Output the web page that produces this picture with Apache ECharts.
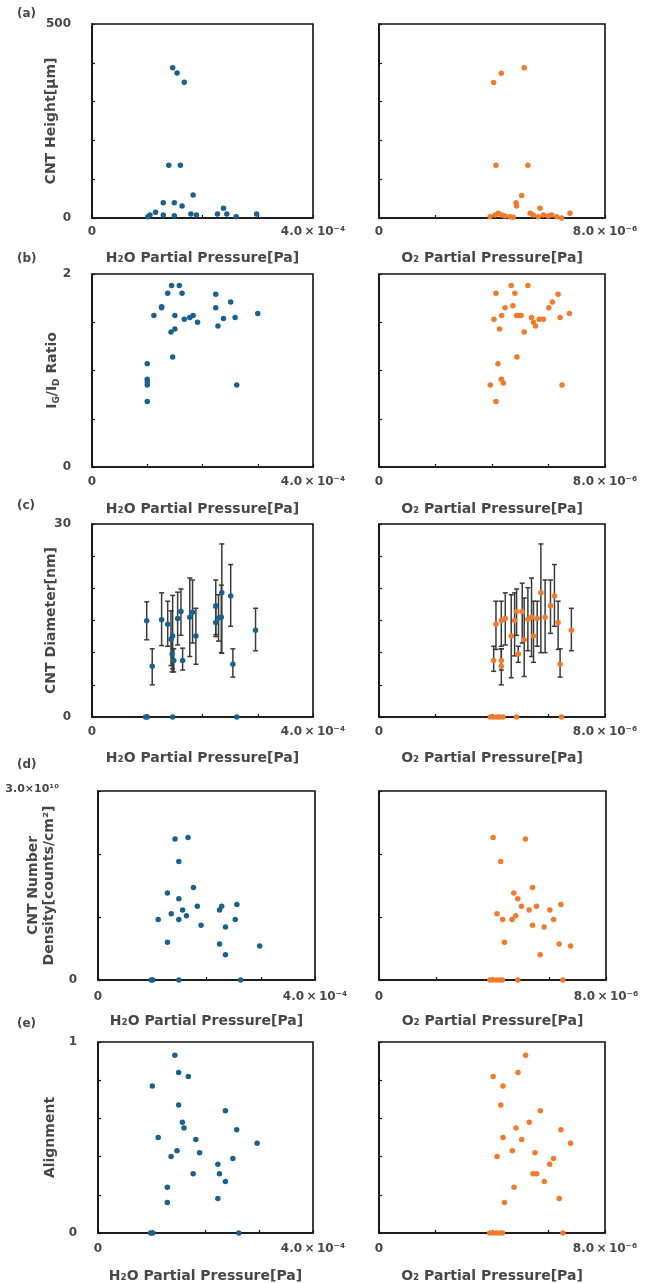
<!DOCTYPE html>
<html><head><meta charset="utf-8">
<script src="https://cdn.jsdelivr.net/npm/echarts@6/dist/echarts.min.js"></script>
<style>html,body{margin:0;padding:0;background:#fff}#c{width:656px;height:1283px}</style>
</head><body><div id="c"></div>
<script>
// ---------------- DATA ----------------
// (a) CNT height [um]
const aH2Ox = [1.46e-4,1.54e-4,1.67e-4,1.39e-4,1.60e-4,1.01e-4,1.05e-4,1.15e-4,1.29e-4,1.29e-4,1.49e-4,1.49e-4,1.63e-4,1.83e-4,1.79e-4,1.89e-4,2.27e-4,2.38e-4,2.44e-4,2.61e-4,2.98e-4];
const aH2Oy = [387,374,350,136,136,3,8,15,39,8,39,6,31,59,10,8,10,25,10,3,10];
const aO2x = [4.06e-6,4.33e-6,5.14e-6,4.14e-6,5.27e-6,5.05e-6,4.85e-6,4.87e-6,5.70e-6,6.76e-6,3.93e-6,4.11e-6,4.22e-6,4.34e-6,4.46e-6,4.64e-6,4.75e-6,5.35e-6,5.46e-6,5.64e-6,5.82e-6,5.99e-6,6.11e-6,6.29e-6,6.47e-6];
const aO2y = [349,373,387,136,136,58,39,31,25,12,3,8,12,8,5,3,2,12,8,3,8,5,8,3,0];

// (b) IG/ID ratio
const bH2Ox = [1.00e-4,1.00e-4,1.00e-4,1.00e-4,1.00e-4,1.12e-4,1.26e-4,1.26e-4,1.37e-4,1.44e-4,1.58e-4,1.63e-4,1.50e-4,1.50e-4,1.43e-4,1.46e-4,1.67e-4,1.77e-4,1.83e-4,1.91e-4,2.24e-4,2.24e-4,2.28e-4,2.38e-4,2.51e-4,2.59e-4,2.62e-4,3.00e-4];
const bH2Oy = [1.07,0.91,0.88,0.85,0.68,1.57,1.66,1.65,1.80,1.88,1.88,1.80,1.57,1.43,1.40,1.14,1.53,1.55,1.57,1.50,1.79,1.65,1.46,1.54,1.71,1.55,0.85,1.59];
const bO2x = [3.94e-6,4.14e-6,4.14e-6,4.07e-6,4.21e-6,4.27e-6,4.34e-6,4.33e-6,4.40e-6,4.46e-6,4.68e-6,4.74e-6,4.81e-6,4.87e-6,4.94e-6,5.03e-6,4.88e-6,5.14e-6,5.27e-6,5.40e-6,5.47e-6,5.54e-6,5.67e-6,5.82e-6,6.01e-6,6.14e-6,6.34e-6,6.41e-6,6.48e-6,6.74e-6];
const bO2y = [0.85,1.80,0.68,1.53,1.07,1.43,1.57,0.91,0.87,1.65,1.88,1.67,1.80,1.57,1.57,1.57,1.14,1.40,1.88,1.55,1.50,1.46,1.53,1.53,1.65,1.71,1.79,1.55,0.85,1.59];

// (c) CNT diameter [nm] with error bars (low, high)
const cH2Ox  = [0.99e-4,1.09e-4,1.26e-4,1.37e-4,1.43e-4,1.46e-4,1.45e-4,1.48e-4,1.55e-4,1.61e-4,1.64e-4,1.77e-4,1.82e-4,1.88e-4,2.24e-4,2.24e-4,2.29e-4,2.34e-4,2.35e-4,2.51e-4,2.55e-4,2.96e-4];
const cH2Oy  = [14.97,7.9,15.1,14.4,12.1,12.6,9.8,8.8,15.3,16.4,8.8,15.5,16.3,12.6,17.3,14.7,15.4,15.5,19.3,18.8,8.2,13.5];
const cH2Olo = [12.0,5.0,11.1,11.0,8.0,7.5,7.0,7.0,11.2,12.7,7.3,9.4,11.5,8.2,12.8,12.5,11.8,10.0,9.9,14.1,6.2,10.3];
const cH2Ohi = [17.9,10.6,19.3,18.0,16.5,18.9,12.5,10.6,19.4,19.9,10.7,21.6,21.3,16.9,21.3,17.0,19.0,20.5,26.9,23.7,10.6,16.9];
const cH2OzeroX = [0.97e-4,1.00e-4,1.46e-4,2.62e-4];
const cO2x  = [4.06e-6,4.14e-6,4.33e-6,4.33e-6,4.33e-6,4.47e-6,4.68e-6,4.80e-6,4.87e-6,4.93e-6,5.07e-6,5.14e-6,5.27e-6,5.40e-6,5.47e-6,5.60e-6,5.73e-6,5.88e-6,6.07e-6,6.21e-6,6.34e-6,6.41e-6,6.81e-6];
const cO2y  = [8.8,14.4,8.8,7.9,15.0,15.3,12.6,15.0,16.4,9.8,16.4,12.0,15.2,15.5,12.6,15.3,19.3,15.5,17.3,18.8,14.7,8.2,13.5];
const cO2lo = [7.1,10.5,7.3,5.0,11.0,11.2,6.1,9.5,12.7,8.5,11.5,6.3,10.3,9.4,8.5,11.0,10.0,10.0,13.0,14.1,10.5,6.2,10.3];
const cO2hi = [11.0,18.0,10.6,10.6,18.0,19.3,19.0,19.3,19.9,11.0,20.8,18.5,20.1,21.6,18.0,18.0,26.9,21.3,21.3,23.7,18.0,10.6,16.9];
const cO2zeroX = [3.94e-6,4.06e-6,4.18e-6,4.27e-6,4.39e-6,4.87e-6,6.46e-6];

// (d) CNT number density [counts/cm2]
const dH2Ox = [1.42e-4,1.66e-4,1.49e-4,1.76e-4,1.28e-4,1.49e-4,1.83e-4,1.56e-4,1.35e-4,1.63e-4,1.11e-4,1.49e-4,1.90e-4,1.28e-4,2.24e-4,2.28e-4,2.56e-4,2.35e-4,2.53e-4,2.24e-4,2.35e-4,2.98e-4,0.98e-4,1.01e-4,1.49e-4,2.63e-4];
const dH2Oy = [2.24e10,2.26e10,1.88e10,1.47e10,1.38e10,1.29e10,1.17e10,1.11e10,1.05e10,1.02e10,0.96e10,0.96e10,0.87e10,0.60e10,1.11e10,1.17e10,1.20e10,0.84e10,0.96e10,0.57e10,0.40e10,0.54e10,0,0,0,0];
const dO2x = [4.02e-6,5.16e-6,4.29e-6,5.41e-6,4.75e-6,4.89e-6,5.02e-6,5.55e-6,5.29e-6,6.02e-6,6.41e-6,4.16e-6,4.82e-6,4.36e-6,4.69e-6,6.15e-6,5.41e-6,5.82e-6,4.42e-6,6.35e-6,6.75e-6,5.68e-6,3.91e-6,4.02e-6,4.14e-6,4.26e-6,4.35e-6,4.89e-6,6.48e-6];
const dO2y = [2.26e10,2.24e10,1.88e10,1.47e10,1.38e10,1.29e10,1.17e10,1.17e10,1.11e10,1.11e10,1.20e10,1.05e10,1.02e10,0.96e10,0.96e10,0.96e10,0.87e10,0.84e10,0.60e10,0.57e10,0.54e10,0.40e10,0,0,0,0,0,0,0];

// (e) Alignment
const eH2Ox = [1.43e-4,1.50e-4,1.68e-4,1.01e-4,1.50e-4,2.37e-4,1.57e-4,1.60e-4,2.58e-4,1.12e-4,1.82e-4,2.96e-4,1.47e-4,1.89e-4,1.36e-4,2.51e-4,2.23e-4,1.77e-4,2.26e-4,2.37e-4,1.29e-4,1.29e-4,2.23e-4,0.98e-4,1.02e-4,2.62e-4];
const eH2Oy = [0.93,0.84,0.82,0.77,0.67,0.64,0.58,0.55,0.54,0.50,0.49,0.47,0.43,0.42,0.40,0.39,0.36,0.31,0.31,0.27,0.24,0.16,0.18,0,0,0];
const eO2x = [5.19e-6,4.92e-6,4.04e-6,4.39e-6,4.31e-6,5.71e-6,5.32e-6,4.85e-6,6.44e-6,4.39e-6,5.05e-6,6.78e-6,4.72e-6,5.52e-6,4.18e-6,6.18e-6,6.04e-6,5.45e-6,5.58e-6,5.85e-6,4.78e-6,4.44e-6,6.38e-6,3.92e-6,4.04e-6,4.16e-6,4.28e-6,4.37e-6,6.51e-6];
const eO2y = [0.93,0.84,0.82,0.77,0.67,0.64,0.58,0.55,0.54,0.50,0.49,0.47,0.43,0.42,0.40,0.39,0.36,0.31,0.31,0.27,0.24,0.16,0.18,0,0,0,0,0,0];

// axis text
const xNameH2O = 'H₂O Partial Pressure[Pa]';
const xNameO2 = 'O₂ Partial Pressure[Pa]';
const xMaxLabelH2O = '4.0\u2009×\u200910⁻⁴';
const xMaxLabelO2 = '8.0\u2009×\u200910⁻⁶';
const yMaxLabelD = '3.0×10¹⁰';
const panelLetters = ['(a)','(b)','(c)','(d)','(e)'];

// ---------------- LAYOUT / STYLE ----------------
const BLUE = '#1b6190', ORANGE = '#f27a2c', TXT = '#474747';
const FONT = '"DejaVu Sans",sans-serif';
const zip = (xs, ys) => xs.map((x, i) => [x, ys[i]]);

const rows = [
  {top:24, h:194, L:[92,221], R:[379,226], yMax:500, yInt:100, yTop:'500', yName:'CNT Height[μm]', yGap:33, xGap:33, lblM:8, labelTop:8,
   sL:[zip(aH2Ox,aH2Oy)], sR:[zip(aO2x,aO2y)]},
  {top:274, h:193, L:[92,221], R:[379,226], yMax:2, yInt:0.5, yTop:'2', yName:'{n|I}{s|G}{n|/I}{s|D}{n| Ratio}', yGap:33, xGap:35, lblM:9, labelTop:253,
   sL:[zip(bH2Ox,bH2Oy)], sR:[zip(bO2x,bO2y)]},
  {top:524, h:193, L:[92,221], R:[379,226], yMax:30, yInt:5, yTop:'30', yName:'CNT Diameter[nm]', yGap:33, xGap:34, lblM:9, labelTop:500,
   sL:[zip(cH2Ox,cH2Oy), cH2OzeroX.map(x=>[x,0])], sR:[zip(cO2x,cO2y), cO2zeroX.map(x=>[x,0])],
   eL:cH2Ox.map((x,i)=>[x,cH2Oy[i],cH2Olo[i],cH2Ohi[i]]), eR:cO2x.map((x,i)=>[x,cO2y[i],cO2lo[i],cO2hi[i]])},
  {top:791, h:189, L:[98,217], R:[379,227], yMax:3e10, yInt:1e10, yTop:'{t|' + yMaxLabelD + '}', yName:'CNT Number\nDensity[counts/cm²]', yGap:41, xGap:34, lblM:11, labelTop:759,
   sL:[zip(dH2Ox,dH2Oy)], sR:[zip(dO2x,dO2y)]},
  {top:1042, h:191, L:[98,215], R:[379,226], yMax:1, yInt:0.2, yTop:'1', yName:'Alignment', yGap:40, xGap:36, lblM:10, labelTop:1018,
   sL:[zip(eH2Ox,eH2Oy)], sR:[zip(eO2x,eO2y)]}
];

const grid = [], xAxis = [], yAxis = [], series = [], graphic = [];
const baseTxt = {color:TXT, fontFamily:FONT, fontWeight:'bold'};

rows.forEach((r, ri) => {
  [['L', r.L, 4e-4, 1e-4, xMaxLabelH2O, xNameH2O, BLUE],
   ['R', r.R, 8e-6, 2e-6, xMaxLabelO2, xNameO2, ORANGE]].forEach(([side, lw, xMax, xInt, xMaxLbl, xName, col]) => {
    const gi = grid.length;
    grid.push({left:lw[0], top:r.top, width:lw[1], height:r.h, show:true, borderColor:'#111', borderWidth:1.6,
      backgroundColor:'#fff', containLabel:false, outerBoundsMode:'none'});
    xAxis.push({gridIndex:gi, type:'value', min:0, max:xMax, interval:xInt,
      axisLine:{show:true, onZero:false, lineStyle:{color:'#111', width:1.6}},
      axisTick:{show:true, inside:true, length:3, lineStyle:{color:'#111', width:1.2}},
      splitLine:{show:false},
      axisLabel:{show:true, margin:r.lblM, fontSize:12, ...baseTxt, showMinLabel:true, showMaxLabel:true, hideOverlap:false,
        formatter:v => v === 0 ? '0' : (v > xMax*0.97 ? xMaxLbl : '')},
      name:xName, nameLocation:'middle', nameGap:r.xGap, nameMoveOverlap:false,
      nameTextStyle:{fontSize:14, ...baseTxt}});
    const yax = {gridIndex:gi, type:'value', min:0, max:r.yMax, interval:r.yInt,
      axisLine:{show:true, onZero:false, lineStyle:{color:'#111', width:1.6}},
      axisTick:{show:true, inside:true, length:3, lineStyle:{color:'#111', width:1.2}},
      splitLine:{show:false},
      axisLabel:{show:side==='L', margin:21, fontSize:12, ...baseTxt, showMinLabel:true, showMaxLabel:true, hideOverlap:false,
        formatter:v => v === 0 ? '0' : (v > r.yMax*0.97 ? r.yTop : ''),
        rich:{t:{fontSize:11, ...baseTxt, padding:[0,18,4,0]}}}};
    if (side === 'L') {
      yax.name = r.yName; yax.nameLocation = 'middle'; yax.nameGap = r.yGap; yax.nameMoveOverlap = false;
      yax.nameTextStyle = {fontSize:14, lineHeight:16, ...baseTxt,
        rich:{n:{fontSize:14, ...baseTxt, lineHeight:17, verticalAlign:'bottom'},
              s:{fontSize:9, ...baseTxt, lineHeight:12, verticalAlign:'bottom', padding:[0,0,-2,0]}}};
    }
    yAxis.push(yax);
    const errs = side === 'L' ? r.eL : r.eR;
    if (errs) {
      series.push({type:'custom', xAxisIndex:gi, yAxisIndex:gi, z:3, silent:true, clip:false,
        data:errs,
        encode:{x:0, y:[2,3]},
        renderItem:(params, api) => {
          const x = api.value(0);
          const pLo = api.coord([x, api.value(2)]);
          const pHi = api.coord([x, api.value(3)]);
          const cw = 2.5;
          const st = {stroke:'#3a3a3a', lineWidth:1.5};
          return {type:'group', children:[
            {type:'line', shape:{x1:pLo[0], y1:pLo[1], x2:pHi[0], y2:pHi[1]}, style:st},
            {type:'line', shape:{x1:pLo[0]-cw, y1:pLo[1], x2:pLo[0]+cw, y2:pLo[1]}, style:st},
            {type:'line', shape:{x1:pHi[0]-cw, y1:pHi[1], x2:pHi[0]+cw, y2:pHi[1]}, style:st}
          ]};
        }});
    }
    (side === 'L' ? r.sL : r.sR).forEach(d => {
      series.push({type:'scatter', xAxisIndex:gi, yAxisIndex:gi, z:5, data:d, symbolSize:5.5,
        itemStyle:{color:col, opacity:1}, clip:false, silent:true});
    });
  });
  graphic.push({type:'text', left:17, top:r.labelTop,
    style:{text:panelLetters[ri], font:'bold 12px ' + FONT, fill:TXT}});
});

const chart = echarts.init(document.getElementById('c'), null, {renderer:'canvas'});
chart.setOption({animation:false, backgroundColor:'#fff', grid, xAxis, yAxis, series, graphic});
</script></body></html>
